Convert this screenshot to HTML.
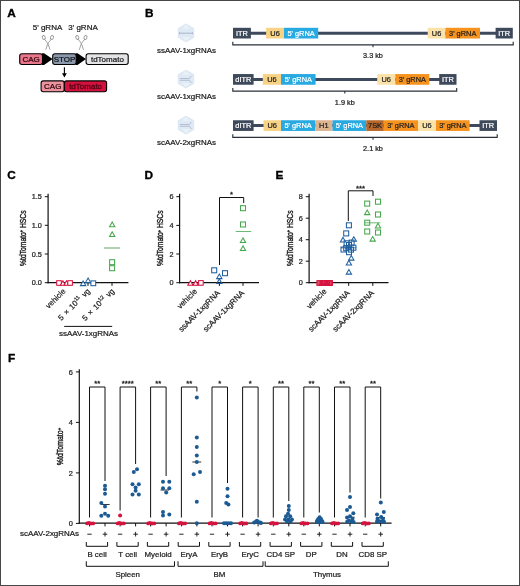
<!DOCTYPE html>
<html lang="en">
<head>
<meta charset="utf-8">
<title>Figure</title>
<style>
html,body{margin:0;padding:0;background:#fff;}
body{width:520px;height:586px;overflow:hidden;}
svg{display:block;font-family:'Liberation Sans', Arial, Helvetica, sans-serif;}
.frame{position:absolute;left:0;top:0;width:518px;height:584px;border:1px solid #474747;pointer-events:none;}
</style>
</head>
<body>
<svg width="520" height="586" viewBox="0 0 520 586">
<rect x="0" y="0" width="520" height="586" fill="#ffffff"/>
<text x="7.3" y="17" font-size="11.8" text-anchor="start" font-weight="bold" fill="#000" stroke="#000" stroke-width="0.35">A</text>
<text x="145" y="17.2" font-size="11.8" text-anchor="start" font-weight="bold" fill="#000" stroke="#000" stroke-width="0.35">B</text>
<text x="7.2" y="179" font-size="11.8" text-anchor="start" font-weight="bold" fill="#000" stroke="#000" stroke-width="0.35">C</text>
<text x="144.4" y="179" font-size="11.8" text-anchor="start" font-weight="bold" fill="#000" stroke="#000" stroke-width="0.35">D</text>
<text x="275.4" y="179" font-size="11.8" text-anchor="start" font-weight="bold" fill="#000" stroke="#000" stroke-width="0.35">E</text>
<text x="7.9" y="361.6" font-size="11.8" text-anchor="start" font-weight="bold" fill="#000" stroke="#000" stroke-width="0.35">F</text>
<text x="47.5" y="30.2" font-size="8" text-anchor="middle" font-weight="normal" fill="#1a1a1a"  stroke="#1a1a1a" stroke-width="0.22">5' gRNA</text>
<text x="83" y="30.2" font-size="8" text-anchor="middle" font-weight="normal" fill="#1a1a1a"  stroke="#1a1a1a" stroke-width="0.22">3' gRNA</text>
<g stroke="#9c9c9c" stroke-width="0.95" fill="none" stroke-linecap="round" stroke-linejoin="round">
<ellipse cx="43.8" cy="37.5" rx="1.45" ry="1.9" transform="rotate(-25 43.8 37.5)"/>
<ellipse cx="52.0" cy="37.5" rx="1.45" ry="1.9" transform="rotate(25 52.0 37.5)"/>
<path d="M44.6 39.3 L47.9 43.4 L49.9 49.4"/>
<path d="M51.199999999999996 39.3 L47.9 43.4 L45.9 49.4"/>
</g>
<g stroke="#9c9c9c" stroke-width="0.95" fill="none" stroke-linecap="round" stroke-linejoin="round">
<ellipse cx="77.30000000000001" cy="37.5" rx="1.45" ry="1.9" transform="rotate(-25 77.30000000000001 37.5)"/>
<ellipse cx="85.5" cy="37.5" rx="1.45" ry="1.9" transform="rotate(25 85.5 37.5)"/>
<path d="M78.10000000000001 39.3 L81.4 43.4 L83.4 49.4"/>
<path d="M84.7 39.3 L81.4 43.4 L79.4 49.4"/>
</g>
<polygon points="42,53.2 44,53.2 52.6,59.1 44,65 42,65" fill="#000"/>
<polygon points="75.5,53.2 77.5,53.2 86,59.1 77.5,65 75.5,65" fill="#000"/>
<rect x="19.7" y="53.7" width="22.8" height="10.8" fill="#e9768a" stroke="#000" stroke-width="1.1" rx="2.2"/>
<text x="31.1" y="62" font-size="8" text-anchor="middle" font-weight="normal" fill="#2a060c"  stroke="#2a060c" stroke-width="0.22">CAG</text>
<rect x="52.7" y="53.7" width="23.5" height="10.8" fill="#8c99ab" stroke="#000" stroke-width="1.1" rx="2.2"/>
<text x="64.5" y="62" font-size="8" text-anchor="middle" font-weight="normal" fill="#0c1016"  stroke="#0c1016" stroke-width="0.22">STOP</text>
<rect x="86.1" y="53.7" width="42.1" height="10.8" fill="#e4e4e6" stroke="#000" stroke-width="1.1" rx="2.2"/>
<text x="107.4" y="61.9" font-size="8" text-anchor="middle" font-weight="normal" fill="#1a1a1a"  stroke="#1a1a1a" stroke-width="0.22">tdTomato</text>
<line x1="64.4" y1="67.2" x2="64.4" y2="75" stroke="#000" stroke-width="1.1" />
<polygon points="62,73.3 66.8,73.3 64.4,77.6" fill="#000"/>
<rect x="41.1" y="80.9" width="23.2" height="10.8" fill="#ee929f" stroke="#000" stroke-width="1.1" rx="2.2"/>
<text x="52.7" y="89.2" font-size="8" text-anchor="middle" font-weight="normal" fill="#2a060c"  stroke="#2a060c" stroke-width="0.22">CAG</text>
<rect x="64.3" y="80.9" width="42.3" height="10.8" fill="#d3113d" stroke="#000" stroke-width="1.1" rx="2.2"/>
<text x="85.6" y="89.1" font-size="8" text-anchor="middle" font-weight="normal" fill="#5c0418" stroke="#5c0418" stroke-width="0.35">tdTomato</text>
<polygon points="186.00,23.90 193.72,28.40 193.72,37.40 186.00,41.90 178.28,37.40 178.28,28.40" fill="#dfeaf4" stroke="#cfdeec" stroke-width="0.6"/>
<path d="M186.0 23.9 L181.0 29.4 L191.0 29.4 Z M186.0 41.9 L181.0 36.4 L191.0 36.4 Z" fill="#e9f1f8" stroke="#d5e3ef" stroke-width="0.4"/>
<path d="M179.5 33.199999999999996 L192.5 33.199999999999996" stroke="#a9b3cf" stroke-width="1" fill="none"/>
<path d="M179.5 32.1 v2.2 M192.5 32.1 v2.2" stroke="#a9b3cf" stroke-width="0.8" fill="none"/>
<text x="186.5" y="52.8" font-size="7.95" text-anchor="middle" font-weight="normal" fill="#1a1a1a"  stroke="#1a1a1a" stroke-width="0.22">ssAAV-1xgRNAs</text>
<polygon points="186.00,70.10 193.72,74.60 193.72,83.60 186.00,88.10 178.28,83.60 178.28,74.60" fill="#dfeaf4" stroke="#cfdeec" stroke-width="0.6"/>
<path d="M186.0 70.1 L181.0 75.6 L191.0 75.6 Z M186.0 88.1 L181.0 82.6 L191.0 82.6 Z" fill="#e9f1f8" stroke="#d5e3ef" stroke-width="0.4"/>
<path d="M191.5 75.89999999999999 L189.5 78.5 L179.8 78.5 M179.8 80.3 L189.5 80.3 L191.5 82.89999999999999" stroke="#a9b3cf" stroke-width="0.8" fill="none"/>
<text x="186.5" y="99.0" font-size="7.95" text-anchor="middle" font-weight="normal" fill="#1a1a1a"  stroke="#1a1a1a" stroke-width="0.22">scAAV-1xgRNAs</text>
<polygon points="186.00,116.10 193.72,120.60 193.72,129.60 186.00,134.10 178.28,129.60 178.28,120.60" fill="#dfeaf4" stroke="#cfdeec" stroke-width="0.6"/>
<path d="M186.0 116.1 L181.0 121.6 L191.0 121.6 Z M186.0 134.1 L181.0 128.6 L191.0 128.6 Z" fill="#e9f1f8" stroke="#d5e3ef" stroke-width="0.4"/>
<path d="M191.5 121.89999999999999 L189.5 124.5 L179.8 124.5 M179.8 126.3 L189.5 126.3 L191.5 128.9" stroke="#a9b3cf" stroke-width="0.8" fill="none"/>
<text x="186.5" y="145.0" font-size="7.95" text-anchor="middle" font-weight="normal" fill="#1a1a1a"  stroke="#1a1a1a" stroke-width="0.22">scAAV-2xgRNAs</text>
<line x1="235" y1="33.15" x2="511" y2="33.15" stroke="#3e4a5b" stroke-width="3.0" />
<rect x="233" y="27.799999999999997" width="17.900000000000006" height="10.7" fill="#3e4a5b" stroke="none" stroke-width="0" rx="0"/>
<text x="241.95" y="35.8" font-size="7.4" text-anchor="middle" font-weight="normal" fill="#fff"  stroke="#fff" stroke-width="0.22">ITR</text>
<rect x="266.1" y="27.799999999999997" width="17.899999999999977" height="10.7" fill="#f9d385" stroke="none" stroke-width="0" rx="0"/>
<text x="275.05" y="35.8" font-size="7.4" text-anchor="middle" font-weight="normal" fill="#1f1f1f"  stroke="#1f1f1f" stroke-width="0.22">U6</text>
<rect x="284" y="27.799999999999997" width="34.19999999999999" height="10.7" fill="#27a9e1" stroke="none" stroke-width="0" rx="0"/>
<text x="301.1" y="35.8" font-size="7.4" text-anchor="middle" font-weight="normal" fill="#fff"  stroke="#fff" stroke-width="0.22">5' gRNA</text>
<rect x="427.7" y="27.799999999999997" width="17.69999999999999" height="10.7" fill="#fbe2a8" stroke="none" stroke-width="0" rx="0"/>
<text x="436.54999999999995" y="35.8" font-size="7.4" text-anchor="middle" font-weight="normal" fill="#1f1f1f"  stroke="#1f1f1f" stroke-width="0.22">U6</text>
<rect x="445.4" y="27.799999999999997" width="34.60000000000002" height="10.7" fill="#f6921e" stroke="none" stroke-width="0" rx="0"/>
<text x="462.7" y="35.8" font-size="7.4" text-anchor="middle" font-weight="normal" fill="#1f1f1f"  stroke="#1f1f1f" stroke-width="0.22">3' gRNA</text>
<rect x="495.6" y="27.799999999999997" width="17.199999999999932" height="10.7" fill="#3e4a5b" stroke="none" stroke-width="0" rx="0"/>
<text x="504.2" y="35.8" font-size="7.4" text-anchor="middle" font-weight="normal" fill="#fff"  stroke="#fff" stroke-width="0.22">ITR</text>
<path d="M232.8 41.849999999999994 V44.849999999999994 H513.2 V41.849999999999994" stroke="#2a303a" stroke-width="1.15" fill="none" />
<line x1="373" y1="44.849999999999994" x2="373" y2="47.349999999999994" stroke="#2a303a" stroke-width="1.1" />
<text x="373" y="58.24999999999999" font-size="7.3" text-anchor="middle" font-weight="normal" fill="#1a1a1a"  stroke="#1a1a1a" stroke-width="0.22">3.3 kb</text>
<line x1="235" y1="79.4" x2="454.5" y2="79.4" stroke="#3e4a5b" stroke-width="3.0" />
<rect x="233" y="74.05000000000001" width="20.599999999999994" height="10.7" fill="#3e4a5b" stroke="none" stroke-width="0" rx="0"/>
<text x="243.3" y="82.05000000000001" font-size="7.4" text-anchor="middle" font-weight="normal" fill="#fff"  stroke="#fff" stroke-width="0.22">dITR</text>
<rect x="262.8" y="74.05000000000001" width="18.19999999999999" height="10.7" fill="#f9d385" stroke="none" stroke-width="0" rx="0"/>
<text x="271.9" y="82.05000000000001" font-size="7.4" text-anchor="middle" font-weight="normal" fill="#1f1f1f"  stroke="#1f1f1f" stroke-width="0.22">U6</text>
<rect x="281" y="74.05000000000001" width="34.60000000000002" height="10.7" fill="#27a9e1" stroke="none" stroke-width="0" rx="0"/>
<text x="298.3" y="82.05000000000001" font-size="7.4" text-anchor="middle" font-weight="normal" fill="#fff"  stroke="#fff" stroke-width="0.22">5' gRNA</text>
<rect x="377.2" y="74.05000000000001" width="18.100000000000023" height="10.7" fill="#fbe2a8" stroke="none" stroke-width="0" rx="0"/>
<text x="386.25" y="82.05000000000001" font-size="7.4" text-anchor="middle" font-weight="normal" fill="#1f1f1f"  stroke="#1f1f1f" stroke-width="0.22">U6</text>
<rect x="395.3" y="74.05000000000001" width="34.0" height="10.7" fill="#f6921e" stroke="none" stroke-width="0" rx="0"/>
<text x="412.3" y="82.05000000000001" font-size="7.4" text-anchor="middle" font-weight="normal" fill="#1f1f1f"  stroke="#1f1f1f" stroke-width="0.22">3' gRNA</text>
<rect x="439.2" y="74.05000000000001" width="17.30000000000001" height="10.7" fill="#3e4a5b" stroke="none" stroke-width="0" rx="0"/>
<text x="447.85" y="82.05000000000001" font-size="7.4" text-anchor="middle" font-weight="normal" fill="#fff"  stroke="#fff" stroke-width="0.22">ITR</text>
<path d="M232.8 88.10000000000001 V91.10000000000001 H456.7 V88.10000000000001" stroke="#2a303a" stroke-width="1.15" fill="none" />
<line x1="344.8" y1="91.10000000000001" x2="344.8" y2="93.60000000000001" stroke="#2a303a" stroke-width="1.1" />
<text x="344.8" y="104.50000000000001" font-size="7.3" text-anchor="middle" font-weight="normal" fill="#1a1a1a"  stroke="#1a1a1a" stroke-width="0.22">1.9 kb</text>
<line x1="235" y1="125.6" x2="495" y2="125.6" stroke="#3e4a5b" stroke-width="3.0" />
<rect x="233" y="120.25" width="20.599999999999994" height="10.7" fill="#3e4a5b" stroke="none" stroke-width="0" rx="0"/>
<text x="243.3" y="128.25" font-size="7.4" text-anchor="middle" font-weight="normal" fill="#fff"  stroke="#fff" stroke-width="0.22">dITR</text>
<rect x="263.5" y="120.25" width="17.5" height="10.7" fill="#f9d385" stroke="none" stroke-width="0" rx="0"/>
<text x="272.25" y="128.25" font-size="7.4" text-anchor="middle" font-weight="normal" fill="#1f1f1f"  stroke="#1f1f1f" stroke-width="0.22">U6</text>
<rect x="281" y="120.25" width="34.19999999999999" height="10.7" fill="#27a9e1" stroke="none" stroke-width="0" rx="0"/>
<text x="298.1" y="128.25" font-size="7.4" text-anchor="middle" font-weight="normal" fill="#fff"  stroke="#fff" stroke-width="0.22">5' gRNA</text>
<rect x="315.2" y="120.25" width="17.30000000000001" height="10.7" fill="#ddb48f" stroke="none" stroke-width="0" rx="0"/>
<text x="323.85" y="128.25" font-size="7.4" text-anchor="middle" font-weight="normal" fill="#1f1f1f"  stroke="#1f1f1f" stroke-width="0.22">H1</text>
<rect x="332.5" y="120.25" width="33.80000000000001" height="10.7" fill="#27a9e1" stroke="none" stroke-width="0" rx="0"/>
<text x="349.4" y="128.25" font-size="7.4" text-anchor="middle" font-weight="normal" fill="#fff"  stroke="#fff" stroke-width="0.22">5' gRNA</text>
<rect x="366.3" y="120.25" width="17.5" height="10.7" fill="#b8672b" stroke="none" stroke-width="0" rx="0"/>
<text x="375.05" y="128.25" font-size="7.4" text-anchor="middle" font-weight="normal" fill="#1f1f1f"  stroke="#1f1f1f" stroke-width="0.22">7SK</text>
<rect x="383.8" y="120.25" width="34.19999999999999" height="10.7" fill="#f6921e" stroke="none" stroke-width="0" rx="0"/>
<text x="400.9" y="128.25" font-size="7.4" text-anchor="middle" font-weight="normal" fill="#1f1f1f"  stroke="#1f1f1f" stroke-width="0.22">3' gRNA</text>
<rect x="418" y="120.25" width="18" height="10.7" fill="#fbe2a8" stroke="none" stroke-width="0" rx="0"/>
<text x="427.0" y="128.25" font-size="7.4" text-anchor="middle" font-weight="normal" fill="#1f1f1f"  stroke="#1f1f1f" stroke-width="0.22">U6</text>
<rect x="436" y="120.25" width="33.60000000000002" height="10.7" fill="#f6921e" stroke="none" stroke-width="0" rx="0"/>
<text x="452.8" y="128.25" font-size="7.4" text-anchor="middle" font-weight="normal" fill="#1f1f1f"  stroke="#1f1f1f" stroke-width="0.22">3' gRNA</text>
<rect x="479.5" y="120.25" width="17.5" height="10.7" fill="#3e4a5b" stroke="none" stroke-width="0" rx="0"/>
<text x="488.25" y="128.25" font-size="7.4" text-anchor="middle" font-weight="normal" fill="#fff"  stroke="#fff" stroke-width="0.22">ITR</text>
<path d="M232.8 134.29999999999998 V137.29999999999998 H497.2 V134.29999999999998" stroke="#2a303a" stroke-width="1.15" fill="none" />
<line x1="373" y1="137.29999999999998" x2="373" y2="139.79999999999998" stroke="#2a303a" stroke-width="1.1" />
<text x="373" y="150.7" font-size="7.3" text-anchor="middle" font-weight="normal" fill="#1a1a1a"  stroke="#1a1a1a" stroke-width="0.22">2.1 kb</text>
<line x1="48.1" y1="193.7" x2="48.1" y2="283.3" stroke="#111" stroke-width="1.2" />
<line x1="47.5" y1="282.7" x2="128.4" y2="282.7" stroke="#111" stroke-width="1.2" />
<line x1="44.800000000000004" y1="196.7" x2="48.1" y2="196.7" stroke="#111" stroke-width="1.0" />
<text x="41.8" y="199.29999999999998" font-size="7.3" text-anchor="end" font-weight="normal" fill="#1a1a1a"  stroke="#1a1a1a" stroke-width="0.22">1.5</text>
<line x1="44.800000000000004" y1="225.3" x2="48.1" y2="225.3" stroke="#111" stroke-width="1.0" />
<text x="41.8" y="227.9" font-size="7.3" text-anchor="end" font-weight="normal" fill="#1a1a1a"  stroke="#1a1a1a" stroke-width="0.22">1.0</text>
<line x1="44.800000000000004" y1="254.0" x2="48.1" y2="254.0" stroke="#111" stroke-width="1.0" />
<text x="41.8" y="256.6" font-size="7.3" text-anchor="end" font-weight="normal" fill="#1a1a1a"  stroke="#1a1a1a" stroke-width="0.22">0.5</text>
<line x1="44.800000000000004" y1="282.7" x2="48.1" y2="282.7" stroke="#111" stroke-width="1.0" />
<text x="41.8" y="285.3" font-size="7.3" text-anchor="end" font-weight="normal" fill="#1a1a1a"  stroke="#1a1a1a" stroke-width="0.22">0.0</text>
<line x1="64.5" y1="282.7" x2="64.5" y2="285.9" stroke="#111" stroke-width="1.0" />
<line x1="88" y1="282.7" x2="88" y2="285.9" stroke="#111" stroke-width="1.0" />
<line x1="112" y1="282.7" x2="112" y2="285.9" stroke="#111" stroke-width="1.0" />
<text transform="translate(25.8 266) rotate(-90)" font-size="8.6" textLength="55.599999999999994" lengthAdjust="spacingAndGlyphs" fill="#1a1a1a" stroke="#1a1a1a" stroke-width="0.38">%tdTomato<tspan font-size="5" dy="-2.6">+</tspan><tspan dy="2.6"> </tspan>HSCs</text>
<rect x="56.70" y="280.70" width="4.6" height="4.6" fill="#fff" stroke="#d5133f" stroke-width="1.05"/>
<polygon points="62.90,280.82 60.40,285.18 65.40,285.18" fill="#fff" stroke="#d5133f" stroke-width="1.05" stroke-linejoin="miter"/>
<polygon points="66.50,280.82 64.00,285.18 69.00,285.18" fill="#fff" stroke="#d5133f" stroke-width="1.05" stroke-linejoin="miter"/>
<rect x="67.80" y="280.70" width="4.6" height="4.6" fill="#fff" stroke="#d5133f" stroke-width="1.05"/>
<polygon points="83.10,280.99 80.45,285.61 85.75,285.61" fill="#fff" stroke="#1f60a0" stroke-width="1.05" stroke-linejoin="miter"/>
<polygon points="88.10,277.99 85.45,282.61 90.75,282.61" fill="#fff" stroke="#1f60a0" stroke-width="1.05" stroke-linejoin="miter"/>
<rect x="90.90" y="280.90" width="4.8" height="4.8" fill="#fff" stroke="#1f60a0" stroke-width="1.05"/>
<polygon points="112.20,222.09 109.55,226.71 114.85,226.71" fill="none" stroke="#46a74c" stroke-width="1.05" stroke-linejoin="miter"/>
<polygon points="112.20,231.79 109.55,236.41 114.85,236.41" fill="none" stroke="#46a74c" stroke-width="1.05" stroke-linejoin="miter"/>
<line x1="104" y1="248" x2="120" y2="248" stroke="#6fae73" stroke-width="1.1" />
<rect x="109.60" y="259.70" width="5.0" height="5.0" fill="none" stroke="#46a74c" stroke-width="1.05"/>
<rect x="109.60" y="265.70" width="5.0" height="5.0" fill="none" stroke="#46a74c" stroke-width="1.05"/>
<text transform="translate(66.0 291.8) rotate(-45)" font-size="7.8" text-anchor="end" fill="#1a1a1a" stroke="#1a1a1a" stroke-width="0.22" >vehicle</text>
<text transform="translate(90.6 291.6) rotate(-45)" font-size="7.8" text-anchor="end" fill="#1a1a1a" stroke="#1a1a1a" stroke-width="0.22" word-spacing="1.2">5 × 10<tspan font-size="5.4" dy="-3.2">11</tspan><tspan dy="3.2"> vg</tspan></text>
<text transform="translate(114.8 291.6) rotate(-45)" font-size="7.8" text-anchor="end" fill="#1a1a1a" stroke="#1a1a1a" stroke-width="0.22" word-spacing="1.2">5 × 10<tspan font-size="5.4" dy="-3.2">12</tspan><tspan dy="3.2"> vg</tspan></text>
<line x1="64.2" y1="326.4" x2="112.2" y2="326.4" stroke="#111" stroke-width="1.0" />
<text x="88.5" y="336.2" font-size="7.95" text-anchor="middle" font-weight="normal" fill="#1a1a1a"  stroke="#1a1a1a" stroke-width="0.22">ssAAV-1xgRNAs</text>
<line x1="179.6" y1="193.7" x2="179.6" y2="283.3" stroke="#111" stroke-width="1.2" />
<line x1="179.0" y1="282.7" x2="259" y2="282.7" stroke="#111" stroke-width="1.2" />
<line x1="176.29999999999998" y1="196.7" x2="179.6" y2="196.7" stroke="#111" stroke-width="1.0" />
<text x="173.5" y="199.29999999999998" font-size="7.3" text-anchor="end" font-weight="normal" fill="#1a1a1a"  stroke="#1a1a1a" stroke-width="0.22">6</text>
<line x1="176.29999999999998" y1="225.4" x2="179.6" y2="225.4" stroke="#111" stroke-width="1.0" />
<text x="173.5" y="228.0" font-size="7.3" text-anchor="end" font-weight="normal" fill="#1a1a1a"  stroke="#1a1a1a" stroke-width="0.22">4</text>
<line x1="176.29999999999998" y1="254.0" x2="179.6" y2="254.0" stroke="#111" stroke-width="1.0" />
<text x="173.5" y="256.6" font-size="7.3" text-anchor="end" font-weight="normal" fill="#1a1a1a"  stroke="#1a1a1a" stroke-width="0.22">2</text>
<line x1="176.29999999999998" y1="282.7" x2="179.6" y2="282.7" stroke="#111" stroke-width="1.0" />
<text x="173.5" y="285.3" font-size="7.3" text-anchor="end" font-weight="normal" fill="#1a1a1a"  stroke="#1a1a1a" stroke-width="0.22">0</text>
<line x1="196.2" y1="282.7" x2="196.2" y2="285.9" stroke="#111" stroke-width="1.0" />
<line x1="219.4" y1="282.7" x2="219.4" y2="285.9" stroke="#111" stroke-width="1.0" />
<line x1="243" y1="282.7" x2="243" y2="285.9" stroke="#111" stroke-width="1.0" />
<text transform="translate(163.2 266) rotate(-90)" font-size="8.6" textLength="55.599999999999994" lengthAdjust="spacingAndGlyphs" fill="#1a1a1a" stroke="#1a1a1a" stroke-width="0.38">%tdTomato<tspan font-size="5" dy="-2.6">+</tspan><tspan dy="2.6"> </tspan>HSCs</text>
<polygon points="190.40,280.64 187.80,285.16 193.00,285.16" fill="#fff" stroke="#d5133f" stroke-width="1.05" stroke-linejoin="miter"/>
<polygon points="195.60,280.64 193.00,285.16 198.20,285.16" fill="#fff" stroke="#d5133f" stroke-width="1.05" stroke-linejoin="miter"/>
<rect x="198.60" y="280.60" width="4.6" height="4.6" fill="#fff" stroke="#d5133f" stroke-width="1.05"/>
<rect x="211.70" y="267.80" width="5.0" height="5.0" fill="none" stroke="#1f60a0" stroke-width="1.05"/>
<rect x="222.50" y="270.70" width="5.0" height="5.0" fill="none" stroke="#1f60a0" stroke-width="1.05"/>
<polygon points="219.30,273.99 216.65,278.61 221.95,278.61" fill="none" stroke="#1f60a0" stroke-width="1.05" stroke-linejoin="miter"/>
<polygon points="219.30,278.89 216.65,283.51 221.95,283.51" fill="none" stroke="#1f60a0" stroke-width="1.05" stroke-linejoin="miter"/>
<rect x="240.50" y="205.70" width="5.0" height="5.0" fill="none" stroke="#46a74c" stroke-width="1.05"/>
<rect x="240.50" y="222.00" width="5.0" height="5.0" fill="none" stroke="#46a74c" stroke-width="1.05"/>
<line x1="235.7" y1="231.5" x2="251.3" y2="231.5" stroke="#46a74c" stroke-width="0.8" />
<polygon points="243.00,237.89 240.35,242.51 245.65,242.51" fill="none" stroke="#46a74c" stroke-width="1.05" stroke-linejoin="miter"/>
<polygon points="243.00,245.89 240.35,250.51 245.65,250.51" fill="none" stroke="#46a74c" stroke-width="1.05" stroke-linejoin="miter"/>
<path d="M219.5 265 V197.5 H243.7 V203" stroke="#111" stroke-width="1.0" fill="none" />
<text x="231.5" y="196.9" font-size="7.7" text-anchor="middle" font-weight="normal" fill="#1a1a1a" stroke="#1a1a1a" stroke-width="0.3">*</text>
<text transform="translate(197.6 292.0) rotate(-45)" font-size="7.9" text-anchor="end" fill="#1a1a1a" stroke="#1a1a1a" stroke-width="0.22" >vehicle</text>
<text transform="translate(220.4 293.6) rotate(-45)" font-size="7.9" text-anchor="end" fill="#1a1a1a" stroke="#1a1a1a" stroke-width="0.22" >ssAAV-1xgRNA</text>
<text transform="translate(244.8 293.6) rotate(-45)" font-size="7.9" text-anchor="end" fill="#1a1a1a" stroke="#1a1a1a" stroke-width="0.22" >scAAV-1xgRNA</text>
<line x1="309.1" y1="193.7" x2="309.1" y2="283.3" stroke="#111" stroke-width="1.2" />
<line x1="308.5" y1="282.7" x2="388.5" y2="282.7" stroke="#111" stroke-width="1.2" />
<line x1="305.8" y1="196.7" x2="309.1" y2="196.7" stroke="#111" stroke-width="1.0" />
<text x="302.9" y="199.29999999999998" font-size="7.3" text-anchor="end" font-weight="normal" fill="#1a1a1a"  stroke="#1a1a1a" stroke-width="0.22">8</text>
<line x1="305.8" y1="218.2" x2="309.1" y2="218.2" stroke="#111" stroke-width="1.0" />
<text x="302.9" y="220.79999999999998" font-size="7.3" text-anchor="end" font-weight="normal" fill="#1a1a1a"  stroke="#1a1a1a" stroke-width="0.22">6</text>
<line x1="305.8" y1="239.7" x2="309.1" y2="239.7" stroke="#111" stroke-width="1.0" />
<text x="302.9" y="242.29999999999998" font-size="7.3" text-anchor="end" font-weight="normal" fill="#1a1a1a"  stroke="#1a1a1a" stroke-width="0.22">4</text>
<line x1="305.8" y1="261.2" x2="309.1" y2="261.2" stroke="#111" stroke-width="1.0" />
<text x="302.9" y="263.8" font-size="7.3" text-anchor="end" font-weight="normal" fill="#1a1a1a"  stroke="#1a1a1a" stroke-width="0.22">2</text>
<line x1="305.8" y1="282.7" x2="309.1" y2="282.7" stroke="#111" stroke-width="1.0" />
<text x="302.9" y="285.3" font-size="7.3" text-anchor="end" font-weight="normal" fill="#1a1a1a"  stroke="#1a1a1a" stroke-width="0.22">0</text>
<line x1="325" y1="282.7" x2="325" y2="285.9" stroke="#111" stroke-width="1.0" />
<line x1="348.7" y1="282.7" x2="348.7" y2="285.9" stroke="#111" stroke-width="1.0" />
<line x1="372.8" y1="282.7" x2="372.8" y2="285.9" stroke="#111" stroke-width="1.0" />
<text transform="translate(292.7 266) rotate(-90)" font-size="8.6" textLength="55.599999999999994" lengthAdjust="spacingAndGlyphs" fill="#1a1a1a" stroke="#1a1a1a" stroke-width="0.38">%tdTomato<tspan font-size="5" dy="-2.6">+</tspan><tspan dy="2.6"> </tspan>HSCs</text>
<rect x="316.9" y="280.4" width="15.6" height="5.2" fill="#e0506d" stroke="none" stroke-width="0" rx="0"/>
<rect x="316.90" y="280.70" width="4.6" height="4.6" fill="none" stroke="#d5133f" stroke-width="1.05"/>
<polygon points="321.80,280.91 319.40,285.09 324.20,285.09" fill="none" stroke="#d5133f" stroke-width="1.05" stroke-linejoin="miter"/>
<rect x="322.10" y="280.70" width="4.6" height="4.6" fill="none" stroke="#d5133f" stroke-width="1.05"/>
<polygon points="327.00,280.91 324.60,285.09 329.40,285.09" fill="none" stroke="#d5133f" stroke-width="1.05" stroke-linejoin="miter"/>
<rect x="327.30" y="280.70" width="4.6" height="4.6" fill="none" stroke="#d5133f" stroke-width="1.05"/>
<rect x="327.90" y="280.70" width="4.6" height="4.6" fill="none" stroke="#d5133f" stroke-width="1.05"/>
<rect x="320.10" y="280.70" width="4.6" height="4.6" fill="none" stroke="#d5133f" stroke-width="1.05"/>
<rect x="325.10" y="280.70" width="4.6" height="4.6" fill="none" stroke="#d5133f" stroke-width="1.05"/>
<rect x="346.40" y="222.80" width="5.0" height="5.0" fill="none" stroke="#1f60a0" stroke-width="1.05"/>
<rect x="343.70" y="230.90" width="5.0" height="5.0" fill="none" stroke="#1f60a0" stroke-width="1.05"/>
<rect x="341.00" y="247.00" width="5.0" height="5.0" fill="none" stroke="#1f60a0" stroke-width="1.05"/>
<rect x="350.90" y="245.20" width="5.0" height="5.0" fill="none" stroke="#1f60a0" stroke-width="1.05"/>
<rect x="346.50" y="249.70" width="5.0" height="5.0" fill="none" stroke="#1f60a0" stroke-width="1.05"/>
<rect x="346.50" y="242.50" width="5.0" height="5.0" fill="none" stroke="#1f60a0" stroke-width="1.05"/>
<rect x="344.10" y="240.80" width="5.0" height="5.0" fill="none" stroke="#1f60a0" stroke-width="1.05"/>
<rect x="349.10" y="240.10" width="5.0" height="5.0" fill="none" stroke="#1f60a0" stroke-width="1.05"/>
<rect x="343.70" y="245.70" width="5.0" height="5.0" fill="none" stroke="#1f60a0" stroke-width="1.05"/>
<rect x="348.50" y="247.10" width="5.0" height="5.0" fill="none" stroke="#1f60a0" stroke-width="1.05"/>
<polygon points="343.00,237.29 340.35,241.91 345.65,241.91" fill="none" stroke="#1f60a0" stroke-width="1.05" stroke-linejoin="miter"/>
<polygon points="353.80,236.69 351.15,241.31 356.45,241.31" fill="none" stroke="#1f60a0" stroke-width="1.05" stroke-linejoin="miter"/>
<polygon points="351.30,255.49 348.65,260.11 353.95,260.11" fill="none" stroke="#1f60a0" stroke-width="1.05" stroke-linejoin="miter"/>
<polygon points="348.90,260.29 346.25,264.91 351.55,264.91" fill="none" stroke="#1f60a0" stroke-width="1.05" stroke-linejoin="miter"/>
<polygon points="348.90,269.49 346.25,274.11 351.55,274.11" fill="none" stroke="#1f60a0" stroke-width="1.05" stroke-linejoin="miter"/>
<polygon points="348.50,244.19 345.85,248.81 351.15,248.81" fill="none" stroke="#1f60a0" stroke-width="1.05" stroke-linejoin="miter"/>
<line x1="341" y1="247.8" x2="356.4" y2="247.8" stroke="#1f60a0" stroke-width="0.8" />
<line x1="348.7" y1="243.5" x2="348.7" y2="252" stroke="#1f60a0" stroke-width="0.8" />
<rect x="364.70" y="201.10" width="5.0" height="5.0" fill="none" stroke="#46a74c" stroke-width="1.05"/>
<rect x="375.50" y="199.20" width="5.0" height="5.0" fill="none" stroke="#46a74c" stroke-width="1.05"/>
<rect x="375.50" y="212.00" width="5.0" height="5.0" fill="none" stroke="#46a74c" stroke-width="1.05"/>
<rect x="364.70" y="220.20" width="5.0" height="5.0" fill="none" stroke="#46a74c" stroke-width="1.05"/>
<rect x="364.70" y="229.00" width="5.0" height="5.0" fill="none" stroke="#46a74c" stroke-width="1.05"/>
<rect x="375.50" y="230.00" width="5.0" height="5.0" fill="none" stroke="#46a74c" stroke-width="1.05"/>
<polygon points="367.20,209.99 364.55,214.61 369.85,214.61" fill="none" stroke="#46a74c" stroke-width="1.05" stroke-linejoin="miter"/>
<polygon points="378.00,223.29 375.35,227.91 380.65,227.91" fill="none" stroke="#46a74c" stroke-width="1.05" stroke-linejoin="miter"/>
<polygon points="372.70,236.49 370.05,241.11 375.35,241.11" fill="none" stroke="#46a74c" stroke-width="1.05" stroke-linejoin="miter"/>
<line x1="365" y1="222.8" x2="380.4" y2="222.8" stroke="#46a74c" stroke-width="0.8" />
<path d="M348.3 221 V190.8 H373 V196" stroke="#111" stroke-width="1.0" fill="none" />
<text x="360.6" y="190.5" font-size="7.7" text-anchor="middle" font-weight="normal" fill="#1a1a1a" stroke="#1a1a1a" stroke-width="0.3">***</text>
<text transform="translate(327.0 292.0) rotate(-45)" font-size="7.9" text-anchor="end" fill="#1a1a1a" stroke="#1a1a1a" stroke-width="0.22" >vehicle</text>
<text transform="translate(350.2 293.6) rotate(-45)" font-size="7.9" text-anchor="end" fill="#1a1a1a" stroke="#1a1a1a" stroke-width="0.22" >scAAV-1xgRNA</text>
<text transform="translate(374.4 293.6) rotate(-45)" font-size="7.9" text-anchor="end" fill="#1a1a1a" stroke="#1a1a1a" stroke-width="0.22" >scAAV-2xgRNA</text>
<line x1="79.3" y1="369.3" x2="79.3" y2="523.7" stroke="#111" stroke-width="1.2" />
<line x1="78.7" y1="523.1" x2="391.6" y2="523.1" stroke="#111" stroke-width="1.2" />
<line x1="75.9" y1="523.4" x2="79.3" y2="523.4" stroke="#111" stroke-width="1.0" />
<text x="72.8" y="526.1" font-size="7.4" text-anchor="end" font-weight="normal" fill="#1a1a1a"  stroke="#1a1a1a" stroke-width="0.22">0</text>
<line x1="75.9" y1="472.90000000000003" x2="79.3" y2="472.90000000000003" stroke="#111" stroke-width="1.0" />
<text x="72.8" y="475.6" font-size="7.4" text-anchor="end" font-weight="normal" fill="#1a1a1a"  stroke="#1a1a1a" stroke-width="0.22">2</text>
<line x1="75.9" y1="422.40000000000003" x2="79.3" y2="422.40000000000003" stroke="#111" stroke-width="1.0" />
<text x="72.8" y="425.1" font-size="7.4" text-anchor="end" font-weight="normal" fill="#1a1a1a"  stroke="#1a1a1a" stroke-width="0.22">4</text>
<line x1="75.9" y1="371.90000000000003" x2="79.3" y2="371.90000000000003" stroke="#111" stroke-width="1.0" />
<text x="72.8" y="374.6" font-size="7.4" text-anchor="end" font-weight="normal" fill="#1a1a1a"  stroke="#1a1a1a" stroke-width="0.22">6</text>
<text transform="translate(63.3 465.2) rotate(-90)" font-size="8.8" textLength="37.4" lengthAdjust="spacingAndGlyphs" fill="#1a1a1a" stroke="#1a1a1a" stroke-width="0.38">%tdTomato<tspan font-size="5.4" dy="-2.8">+</tspan></text>
<text x="79" y="536.4" font-size="7.95" text-anchor="end" font-weight="normal" fill="#1a1a1a"  stroke="#1a1a1a" stroke-width="0.22">scAAV-2xgRNAs</text>
<path d="M89.5 517.5 V387 H105.0 V481" stroke="#111" stroke-width="1.0" fill="none" />
<text x="97.25" y="386.4" font-size="7.7" text-anchor="middle" font-weight="normal" fill="#1a1a1a" stroke="#1a1a1a" stroke-width="0.3">**</text>
<line x1="87.3" y1="534.2" x2="91.7" y2="534.2" stroke="#111" stroke-width="0.9" />
<line x1="102.7" y1="534.2" x2="107.3" y2="534.2" stroke="#111" stroke-width="0.9" />
<line x1="105.0" y1="531.9" x2="105.0" y2="536.5" stroke="#111" stroke-width="0.9" />
<path d="M86.3 542 V546.3 H107.6 V542" stroke="#111" stroke-width="1.0" fill="none" />
<text x="97.05" y="556.8" font-size="7.9" text-anchor="middle" font-weight="normal" fill="#1a1a1a"  stroke="#1a1a1a" stroke-width="0.22">B cell</text>
<path d="M120.1 510.5 V387 H135.6 V464" stroke="#111" stroke-width="1.0" fill="none" />
<text x="127.85" y="386.4" font-size="7.7" text-anchor="middle" font-weight="normal" fill="#1a1a1a" stroke="#1a1a1a" stroke-width="0.3">****</text>
<line x1="117.89999999999999" y1="534.2" x2="122.3" y2="534.2" stroke="#111" stroke-width="0.9" />
<line x1="133.29999999999998" y1="534.2" x2="137.9" y2="534.2" stroke="#111" stroke-width="0.9" />
<line x1="135.6" y1="531.9" x2="135.6" y2="536.5" stroke="#111" stroke-width="0.9" />
<path d="M116.89999999999999 542 V546.3 H138.2 V542" stroke="#111" stroke-width="1.0" fill="none" />
<text x="127.64999999999999" y="556.8" font-size="7.9" text-anchor="middle" font-weight="normal" fill="#1a1a1a"  stroke="#1a1a1a" stroke-width="0.22">T cell</text>
<path d="M150.6 517.5 V387 H166.1 V476" stroke="#111" stroke-width="1.0" fill="none" />
<text x="158.35" y="386.4" font-size="7.7" text-anchor="middle" font-weight="normal" fill="#1a1a1a" stroke="#1a1a1a" stroke-width="0.3">**</text>
<line x1="148.4" y1="534.2" x2="152.79999999999998" y2="534.2" stroke="#111" stroke-width="0.9" />
<line x1="163.79999999999998" y1="534.2" x2="168.4" y2="534.2" stroke="#111" stroke-width="0.9" />
<line x1="166.1" y1="531.9" x2="166.1" y2="536.5" stroke="#111" stroke-width="0.9" />
<path d="M147.4 542 V546.3 H168.7 V542" stroke="#111" stroke-width="1.0" fill="none" />
<text x="158.15" y="556.8" font-size="7.9" text-anchor="middle" font-weight="normal" fill="#1a1a1a"  stroke="#1a1a1a" stroke-width="0.22">Myeloid</text>
<path d="M181.4 517.5 V387 H196.9 V391.5" stroke="#111" stroke-width="1.0" fill="none" />
<text x="189.15" y="386.4" font-size="7.7" text-anchor="middle" font-weight="normal" fill="#1a1a1a" stroke="#1a1a1a" stroke-width="0.3">**</text>
<line x1="179.20000000000002" y1="534.2" x2="183.6" y2="534.2" stroke="#111" stroke-width="0.9" />
<line x1="194.6" y1="534.2" x2="199.20000000000002" y2="534.2" stroke="#111" stroke-width="0.9" />
<line x1="196.9" y1="531.9" x2="196.9" y2="536.5" stroke="#111" stroke-width="0.9" />
<path d="M178.20000000000002 542 V546.3 H199.5 V542" stroke="#111" stroke-width="1.0" fill="none" />
<text x="188.95000000000002" y="556.8" font-size="7.9" text-anchor="middle" font-weight="normal" fill="#1a1a1a"  stroke="#1a1a1a" stroke-width="0.22">EryA</text>
<path d="M212 517.5 V387 H227.5 V483" stroke="#111" stroke-width="1.0" fill="none" />
<text x="219.75" y="386.4" font-size="7.7" text-anchor="middle" font-weight="normal" fill="#1a1a1a" stroke="#1a1a1a" stroke-width="0.3">*</text>
<line x1="209.8" y1="534.2" x2="214.2" y2="534.2" stroke="#111" stroke-width="0.9" />
<line x1="225.2" y1="534.2" x2="229.8" y2="534.2" stroke="#111" stroke-width="0.9" />
<line x1="227.5" y1="531.9" x2="227.5" y2="536.5" stroke="#111" stroke-width="0.9" />
<path d="M208.8 542 V546.3 H230.1 V542" stroke="#111" stroke-width="1.0" fill="none" />
<text x="219.55" y="556.8" font-size="7.9" text-anchor="middle" font-weight="normal" fill="#1a1a1a"  stroke="#1a1a1a" stroke-width="0.22">EryB</text>
<path d="M242.6 517.5 V387 H258.1 V517.5" stroke="#111" stroke-width="1.0" fill="none" />
<text x="250.35000000000002" y="386.4" font-size="7.7" text-anchor="middle" font-weight="normal" fill="#1a1a1a" stroke="#1a1a1a" stroke-width="0.3">*</text>
<line x1="240.4" y1="534.2" x2="244.79999999999998" y2="534.2" stroke="#111" stroke-width="0.9" />
<line x1="255.8" y1="534.2" x2="260.40000000000003" y2="534.2" stroke="#111" stroke-width="0.9" />
<line x1="258.1" y1="531.9" x2="258.1" y2="536.5" stroke="#111" stroke-width="0.9" />
<path d="M239.4 542 V546.3 H260.70000000000005 V542" stroke="#111" stroke-width="1.0" fill="none" />
<text x="250.15000000000003" y="556.8" font-size="7.9" text-anchor="middle" font-weight="normal" fill="#1a1a1a"  stroke="#1a1a1a" stroke-width="0.22">EryC</text>
<path d="M273.3 517.5 V387 H288.8 V501" stroke="#111" stroke-width="1.0" fill="none" />
<text x="281.05" y="386.4" font-size="7.7" text-anchor="middle" font-weight="normal" fill="#1a1a1a" stroke="#1a1a1a" stroke-width="0.3">**</text>
<line x1="271.1" y1="534.2" x2="275.5" y2="534.2" stroke="#111" stroke-width="0.9" />
<line x1="286.5" y1="534.2" x2="291.1" y2="534.2" stroke="#111" stroke-width="0.9" />
<line x1="288.8" y1="531.9" x2="288.8" y2="536.5" stroke="#111" stroke-width="0.9" />
<path d="M270.1 542 V546.3 H291.40000000000003 V542" stroke="#111" stroke-width="1.0" fill="none" />
<text x="280.85" y="556.8" font-size="7.9" text-anchor="middle" font-weight="normal" fill="#1a1a1a"  stroke="#1a1a1a" stroke-width="0.22">CD4 SP</text>
<path d="M303.8 517.5 V387 H319.3 V512.5" stroke="#111" stroke-width="1.0" fill="none" />
<text x="311.55" y="386.4" font-size="7.7" text-anchor="middle" font-weight="normal" fill="#1a1a1a" stroke="#1a1a1a" stroke-width="0.3">**</text>
<line x1="301.6" y1="534.2" x2="306.0" y2="534.2" stroke="#111" stroke-width="0.9" />
<line x1="317.0" y1="534.2" x2="321.6" y2="534.2" stroke="#111" stroke-width="0.9" />
<line x1="319.3" y1="531.9" x2="319.3" y2="536.5" stroke="#111" stroke-width="0.9" />
<path d="M300.6 542 V546.3 H321.90000000000003 V542" stroke="#111" stroke-width="1.0" fill="none" />
<text x="311.35" y="556.8" font-size="7.9" text-anchor="middle" font-weight="normal" fill="#1a1a1a"  stroke="#1a1a1a" stroke-width="0.22">DP</text>
<path d="M334.5 517.5 V387 H350.0 V492.5" stroke="#111" stroke-width="1.0" fill="none" />
<text x="342.25" y="386.4" font-size="7.7" text-anchor="middle" font-weight="normal" fill="#1a1a1a" stroke="#1a1a1a" stroke-width="0.3">**</text>
<line x1="332.3" y1="534.2" x2="336.7" y2="534.2" stroke="#111" stroke-width="0.9" />
<line x1="347.7" y1="534.2" x2="352.3" y2="534.2" stroke="#111" stroke-width="0.9" />
<line x1="350.0" y1="531.9" x2="350.0" y2="536.5" stroke="#111" stroke-width="0.9" />
<path d="M331.3 542 V546.3 H352.6 V542" stroke="#111" stroke-width="1.0" fill="none" />
<text x="342.05" y="556.8" font-size="7.9" text-anchor="middle" font-weight="normal" fill="#1a1a1a"  stroke="#1a1a1a" stroke-width="0.22">DN</text>
<path d="M365.2 517.5 V387 H380.7 V498.5" stroke="#111" stroke-width="1.0" fill="none" />
<text x="372.95" y="386.4" font-size="7.7" text-anchor="middle" font-weight="normal" fill="#1a1a1a" stroke="#1a1a1a" stroke-width="0.3">**</text>
<line x1="363.0" y1="534.2" x2="367.4" y2="534.2" stroke="#111" stroke-width="0.9" />
<line x1="378.4" y1="534.2" x2="383.0" y2="534.2" stroke="#111" stroke-width="0.9" />
<line x1="380.7" y1="531.9" x2="380.7" y2="536.5" stroke="#111" stroke-width="0.9" />
<path d="M362.0 542 V546.3 H383.3 V542" stroke="#111" stroke-width="1.0" fill="none" />
<text x="372.75" y="556.8" font-size="7.9" text-anchor="middle" font-weight="normal" fill="#1a1a1a"  stroke="#1a1a1a" stroke-width="0.22">CD8 SP</text>
<path d="M86.3 561.3 V566.3 H174.5 V561.3" stroke="#111" stroke-width="1.0" fill="none" />
<path d="M178 561.3 V566.3 H263 V561.3" stroke="#111" stroke-width="1.0" fill="none" />
<path d="M265.2 561.3 V566.3 H388.3 V561.3" stroke="#111" stroke-width="1.0" fill="none" />
<text x="127.7" y="577.1" font-size="7.9" text-anchor="middle" font-weight="normal" fill="#1a1a1a"  stroke="#1a1a1a" stroke-width="0.22">Spleen</text>
<text x="219.5" y="577.1" font-size="7.9" text-anchor="middle" font-weight="normal" fill="#1a1a1a"  stroke="#1a1a1a" stroke-width="0.22">BM</text>
<text x="327" y="577.1" font-size="7.9" text-anchor="middle" font-weight="normal" fill="#1a1a1a"  stroke="#1a1a1a" stroke-width="0.22">Thymus</text>
<line x1="89.5" y1="523.1" x2="89.5" y2="526.4" stroke="#111" stroke-width="1.0" />
<line x1="105.0" y1="523.1" x2="105.0" y2="526.4" stroke="#111" stroke-width="1.0" />
<line x1="120.1" y1="523.1" x2="120.1" y2="526.4" stroke="#111" stroke-width="1.0" />
<line x1="135.6" y1="523.1" x2="135.6" y2="526.4" stroke="#111" stroke-width="1.0" />
<line x1="150.6" y1="523.1" x2="150.6" y2="526.4" stroke="#111" stroke-width="1.0" />
<line x1="166.1" y1="523.1" x2="166.1" y2="526.4" stroke="#111" stroke-width="1.0" />
<line x1="181.4" y1="523.1" x2="181.4" y2="526.4" stroke="#111" stroke-width="1.0" />
<line x1="196.9" y1="523.1" x2="196.9" y2="526.4" stroke="#111" stroke-width="1.0" />
<line x1="212" y1="523.1" x2="212" y2="526.4" stroke="#111" stroke-width="1.0" />
<line x1="227.5" y1="523.1" x2="227.5" y2="526.4" stroke="#111" stroke-width="1.0" />
<line x1="242.6" y1="523.1" x2="242.6" y2="526.4" stroke="#111" stroke-width="1.0" />
<line x1="258.1" y1="523.1" x2="258.1" y2="526.4" stroke="#111" stroke-width="1.0" />
<line x1="273.3" y1="523.1" x2="273.3" y2="526.4" stroke="#111" stroke-width="1.0" />
<line x1="288.8" y1="523.1" x2="288.8" y2="526.4" stroke="#111" stroke-width="1.0" />
<line x1="303.8" y1="523.1" x2="303.8" y2="526.4" stroke="#111" stroke-width="1.0" />
<line x1="319.3" y1="523.1" x2="319.3" y2="526.4" stroke="#111" stroke-width="1.0" />
<line x1="334.5" y1="523.1" x2="334.5" y2="526.4" stroke="#111" stroke-width="1.0" />
<line x1="350.0" y1="523.1" x2="350.0" y2="526.4" stroke="#111" stroke-width="1.0" />
<line x1="365.2" y1="523.1" x2="365.2" y2="526.4" stroke="#111" stroke-width="1.0" />
<line x1="380.7" y1="523.1" x2="380.7" y2="526.4" stroke="#111" stroke-width="1.0" />
<circle cx="87.00" cy="523.40" r="1.9" fill="#d4143f"/>
<circle cx="88.80" cy="522.80" r="1.9" fill="#d4143f"/>
<circle cx="90.90" cy="523.50" r="1.9" fill="#d4143f"/>
<circle cx="93.20" cy="523.40" r="1.9" fill="#d4143f"/>
<circle cx="117.60" cy="523.40" r="1.9" fill="#d4143f"/>
<circle cx="119.40" cy="522.80" r="1.9" fill="#d4143f"/>
<circle cx="121.50" cy="523.50" r="1.9" fill="#d4143f"/>
<circle cx="123.80" cy="523.40" r="1.9" fill="#d4143f"/>
<circle cx="148.10" cy="523.40" r="1.9" fill="#d4143f"/>
<circle cx="149.90" cy="522.80" r="1.9" fill="#d4143f"/>
<circle cx="152.00" cy="523.50" r="1.9" fill="#d4143f"/>
<circle cx="154.30" cy="523.40" r="1.9" fill="#d4143f"/>
<circle cx="178.90" cy="523.40" r="1.9" fill="#d4143f"/>
<circle cx="180.70" cy="522.80" r="1.9" fill="#d4143f"/>
<circle cx="182.80" cy="523.50" r="1.9" fill="#d4143f"/>
<circle cx="185.10" cy="523.40" r="1.9" fill="#d4143f"/>
<circle cx="209.50" cy="523.40" r="1.9" fill="#d4143f"/>
<circle cx="211.30" cy="522.80" r="1.9" fill="#d4143f"/>
<circle cx="213.40" cy="523.50" r="1.9" fill="#d4143f"/>
<circle cx="215.70" cy="523.40" r="1.9" fill="#d4143f"/>
<circle cx="240.10" cy="523.40" r="1.9" fill="#d4143f"/>
<circle cx="241.90" cy="522.80" r="1.9" fill="#d4143f"/>
<circle cx="244.00" cy="523.50" r="1.9" fill="#d4143f"/>
<circle cx="246.30" cy="523.40" r="1.9" fill="#d4143f"/>
<circle cx="270.80" cy="523.40" r="1.9" fill="#d4143f"/>
<circle cx="272.60" cy="522.80" r="1.9" fill="#d4143f"/>
<circle cx="274.70" cy="523.50" r="1.9" fill="#d4143f"/>
<circle cx="277.00" cy="523.40" r="1.9" fill="#d4143f"/>
<circle cx="301.30" cy="523.40" r="1.9" fill="#d4143f"/>
<circle cx="303.10" cy="522.80" r="1.9" fill="#d4143f"/>
<circle cx="305.20" cy="523.50" r="1.9" fill="#d4143f"/>
<circle cx="307.50" cy="523.40" r="1.9" fill="#d4143f"/>
<circle cx="332.00" cy="523.40" r="1.9" fill="#d4143f"/>
<circle cx="333.80" cy="522.80" r="1.9" fill="#d4143f"/>
<circle cx="335.90" cy="523.50" r="1.9" fill="#d4143f"/>
<circle cx="338.20" cy="523.40" r="1.9" fill="#d4143f"/>
<circle cx="362.70" cy="523.40" r="1.9" fill="#d4143f"/>
<circle cx="364.50" cy="522.80" r="1.9" fill="#d4143f"/>
<circle cx="366.60" cy="523.50" r="1.9" fill="#d4143f"/>
<circle cx="368.90" cy="523.40" r="1.9" fill="#d4143f"/>
<circle cx="120.10" cy="515.50" r="2.0" fill="#d4143f"/>
<line x1="101" y1="504.5" x2="109.6" y2="504.5" stroke="#1a1a1a" stroke-width="0.9" />
<line x1="160.5" y1="490" x2="169" y2="490" stroke="#1a1a1a" stroke-width="0.9" />
<line x1="192.4" y1="462" x2="201.2" y2="462" stroke="#1a1a1a" stroke-width="0.9" />
<line x1="346" y1="517.2" x2="354.6" y2="517.2" stroke="#1a1a1a" stroke-width="0.9" />
<line x1="376.2" y1="517.6" x2="385" y2="517.6" stroke="#1a1a1a" stroke-width="0.9" />
<circle cx="105.00" cy="485.80" r="2.0" fill="#1c5a94"/>
<circle cx="105.00" cy="489.30" r="2.0" fill="#1c5a94"/>
<circle cx="105.00" cy="493.80" r="2.0" fill="#1c5a94"/>
<circle cx="101.30" cy="503.00" r="2.0" fill="#1c5a94"/>
<circle cx="105.00" cy="506.40" r="2.0" fill="#1c5a94"/>
<circle cx="101.30" cy="515.80" r="2.0" fill="#1c5a94"/>
<circle cx="105.00" cy="513.80" r="2.0" fill="#1c5a94"/>
<circle cx="108.20" cy="515.80" r="2.0" fill="#1c5a94"/>
<circle cx="137.00" cy="469.30" r="2.0" fill="#1c5a94"/>
<circle cx="133.80" cy="472.00" r="2.0" fill="#1c5a94"/>
<circle cx="132.50" cy="484.30" r="2.0" fill="#1c5a94"/>
<circle cx="138.80" cy="484.30" r="2.0" fill="#1c5a94"/>
<circle cx="135.60" cy="487.50" r="2.0" fill="#1c5a94"/>
<circle cx="135.60" cy="490.80" r="2.0" fill="#1c5a94"/>
<circle cx="132.50" cy="494.50" r="2.0" fill="#1c5a94"/>
<circle cx="138.80" cy="494.50" r="2.0" fill="#1c5a94"/>
<circle cx="163.00" cy="481.80" r="2.0" fill="#1c5a94"/>
<circle cx="169.30" cy="481.80" r="2.0" fill="#1c5a94"/>
<circle cx="163.00" cy="488.30" r="2.0" fill="#1c5a94"/>
<circle cx="169.30" cy="488.30" r="2.0" fill="#1c5a94"/>
<circle cx="166.20" cy="492.50" r="2.0" fill="#1c5a94"/>
<circle cx="163.00" cy="512.00" r="2.0" fill="#1c5a94"/>
<circle cx="163.00" cy="515.50" r="2.0" fill="#1c5a94"/>
<circle cx="169.30" cy="514.50" r="2.0" fill="#1c5a94"/>
<circle cx="196.80" cy="397.50" r="2.0" fill="#1c5a94"/>
<circle cx="196.80" cy="437.50" r="2.0" fill="#1c5a94"/>
<circle cx="196.80" cy="447.00" r="2.0" fill="#1c5a94"/>
<circle cx="196.80" cy="455.50" r="2.0" fill="#1c5a94"/>
<circle cx="196.80" cy="462.00" r="2.0" fill="#1c5a94"/>
<circle cx="193.70" cy="474.30" r="2.0" fill="#1c5a94"/>
<circle cx="200.00" cy="472.00" r="2.0" fill="#1c5a94"/>
<circle cx="196.80" cy="501.80" r="2.0" fill="#1c5a94"/>
<circle cx="196.80" cy="523.30" r="2.0" fill="#1c5a94"/>
<circle cx="227.50" cy="488.80" r="2.0" fill="#1c5a94"/>
<circle cx="227.50" cy="496.30" r="2.0" fill="#1c5a94"/>
<circle cx="226.20" cy="503.00" r="2.0" fill="#1c5a94"/>
<circle cx="228.40" cy="504.50" r="2.0" fill="#1c5a94"/>
<circle cx="224.00" cy="523.20" r="2.0" fill="#1c5a94"/>
<circle cx="226.30" cy="523.20" r="2.0" fill="#1c5a94"/>
<circle cx="228.70" cy="523.20" r="2.0" fill="#1c5a94"/>
<circle cx="231.00" cy="523.20" r="2.0" fill="#1c5a94"/>
<circle cx="254.20" cy="522.60" r="2.0" fill="#1c5a94"/>
<circle cx="256.20" cy="521.60" r="2.0" fill="#1c5a94"/>
<circle cx="258.20" cy="522.00" r="2.0" fill="#1c5a94"/>
<circle cx="260.20" cy="522.60" r="2.0" fill="#1c5a94"/>
<circle cx="257.00" cy="520.80" r="2.0" fill="#1c5a94"/>
<circle cx="261.00" cy="522.90" r="2.0" fill="#1c5a94"/>
<circle cx="288.80" cy="506.00" r="2.0" fill="#1c5a94"/>
<circle cx="288.80" cy="510.00" r="2.0" fill="#1c5a94"/>
<circle cx="288.00" cy="513.80" r="2.0" fill="#1c5a94"/>
<circle cx="286.00" cy="516.20" r="2.0" fill="#1c5a94"/>
<circle cx="290.20" cy="516.20" r="2.0" fill="#1c5a94"/>
<circle cx="285.00" cy="519.60" r="2.0" fill="#1c5a94"/>
<circle cx="288.40" cy="519.60" r="2.0" fill="#1c5a94"/>
<circle cx="292.00" cy="519.60" r="2.0" fill="#1c5a94"/>
<circle cx="287.00" cy="521.50" r="2.0" fill="#1c5a94"/>
<circle cx="290.50" cy="521.50" r="2.0" fill="#1c5a94"/>
<circle cx="319.60" cy="517.20" r="2.0" fill="#1c5a94"/>
<circle cx="318.20" cy="519.00" r="2.0" fill="#1c5a94"/>
<circle cx="321.00" cy="519.00" r="2.0" fill="#1c5a94"/>
<circle cx="317.20" cy="520.80" r="2.0" fill="#1c5a94"/>
<circle cx="319.60" cy="520.60" r="2.0" fill="#1c5a94"/>
<circle cx="322.00" cy="520.90" r="2.0" fill="#1c5a94"/>
<circle cx="316.80" cy="521.90" r="2.0" fill="#1c5a94"/>
<circle cx="319.00" cy="521.90" r="2.0" fill="#1c5a94"/>
<circle cx="321.00" cy="521.90" r="2.0" fill="#1c5a94"/>
<circle cx="322.60" cy="522.00" r="2.0" fill="#1c5a94"/>
<circle cx="350.00" cy="497.00" r="2.0" fill="#1c5a94"/>
<circle cx="350.00" cy="507.00" r="2.0" fill="#1c5a94"/>
<circle cx="347.00" cy="510.00" r="2.0" fill="#1c5a94"/>
<circle cx="353.30" cy="513.30" r="2.0" fill="#1c5a94"/>
<circle cx="350.00" cy="516.30" r="2.0" fill="#1c5a94"/>
<circle cx="347.00" cy="517.40" r="2.0" fill="#1c5a94"/>
<circle cx="352.50" cy="518.80" r="2.0" fill="#1c5a94"/>
<circle cx="349.00" cy="520.60" r="2.0" fill="#1c5a94"/>
<circle cx="347.20" cy="521.80" r="2.0" fill="#1c5a94"/>
<circle cx="351.50" cy="521.60" r="2.0" fill="#1c5a94"/>
<circle cx="353.60" cy="521.90" r="2.0" fill="#1c5a94"/>
<circle cx="380.80" cy="502.50" r="2.0" fill="#1c5a94"/>
<circle cx="383.80" cy="512.00" r="2.0" fill="#1c5a94"/>
<circle cx="377.00" cy="514.50" r="2.0" fill="#1c5a94"/>
<circle cx="381.20" cy="517.00" r="2.0" fill="#1c5a94"/>
<circle cx="377.50" cy="518.80" r="2.0" fill="#1c5a94"/>
<circle cx="383.00" cy="518.80" r="2.0" fill="#1c5a94"/>
<circle cx="379.50" cy="521.20" r="2.0" fill="#1c5a94"/>
<circle cx="377.00" cy="521.50" r="2.0" fill="#1c5a94"/>
<circle cx="382.40" cy="521.60" r="2.0" fill="#1c5a94"/>
<circle cx="384.00" cy="521.70" r="2.0" fill="#1c5a94"/>
</svg>
<div class="frame"></div>
</body>
</html>
